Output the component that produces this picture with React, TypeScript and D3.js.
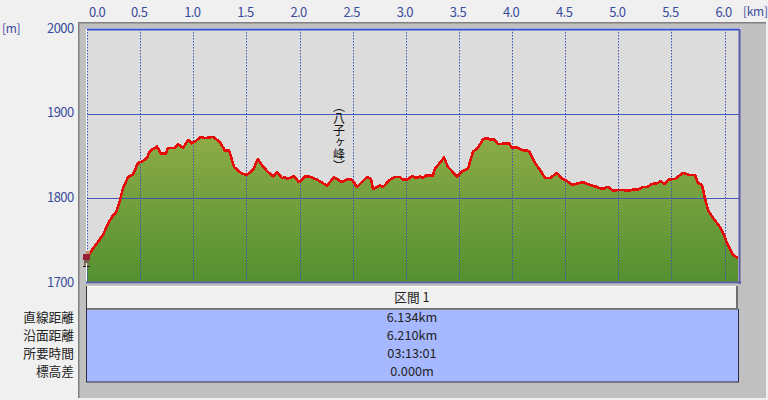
import React from "react";
import * as d3 from "d3";

const distanceKm = [0,.047,.094,.151,.198,.245,.273,.311,.339,.386,.433,.480,.527,.565,.593,.659,.696,.744,.762,.828,.856,.904,.951,.988,1.016,1.073,1.111,1.186,1.252,1.299,1.336,1.384,1.459,1.506,1.562,1.609,1.647,1.704,1.751,1.788,1.835,1.864,1.882,1.948,1.995,2.052,2.089,2.165,2.259,2.325,2.400,2.456,2.494,2.541,2.635,2.673,2.692,2.758,2.786,2.852,2.899,2.946,2.974,3.012,3.059,3.106,3.134,3.162,3.191,3.256,3.275,3.341,3.360,3.398,3.482,3.529,3.586,3.633,3.680,3.727,3.765,3.802,3.831,3.868,3.972,4.000,4.047,4.094,4.160,4.216,4.264,4.311,4.358,4.424,4.471,4.499,4.565,4.668,4.753,4.800,4.847,4.904,4.951,5.016,5.111,5.148,5.176,5.233,5.271,5.318,5.374,5.393,5.440,5.468,5.534,5.609,5.675,5.722,5.751,5.788,5.816,5.845,5.892,5.958,5.995,6.024,6.080,6.127];
const elevationM = [1729.5,1739,1747,1757,1770,1780,1783,1798,1812,1825,1828,1842,1844,1848,1856,1861,1853,1853,1859.5,1859.5,1864,1859.5,1869,1865,1867,1872.5,1871,1872.5,1866.5,1856,1857,1837,1829,1828,1833.5,1846.5,1839,1831,1826,1831,1824,1825,1823,1826,1819,1826,1826,1822,1815,1825,1819,1823,1822,1813.5,1825,1823,1811,1815,1813.5,1822,1825,1825,1822,1822,1826,1824,1826,1824,1827,1827,1835,1845,1848,1837,1826,1832,1835,1855,1859.5,1870,1871,1869,1870,1864,1865,1860,1860,1857,1856,1842,1833.5,1824,1824,1830,1823,1822,1816,1819,1815,1813.5,1811,1813.5,1809,1810,1809,1811,1810,1813.5,1813.5,1817,1818,1820.5,1817,1822,1823,1830,1827.5,1827.5,1818,1816,1800.4,1786,1777,1766,1757,1747,1733,1729.5];
const xTicks = [0,0.5,1,1.5,2,2.5,3,3.5,4,4.5,5,5.5,6];
const yTicks = [2000,1900,1800,1700];
const rowLabels = ["直線距離","沿面距離","所要時間","標高差"];
const rowValues = ["6.134km","6.210km","03:13:01","0.000m"];
const sectionTitle = "区間 1";
const peakLabel = "（八子ヶ峰）";

const FONT = "'Noto Sans CJK JP', sans-serif";
const points = distanceKm.map((d, i) => [d, elevationM[i]] as [number, number]);

export default function App() {
  const x = d3.scaleLinear().domain([0, 6]).range([87, 724.5]);
  const y = d3.scaleLinear().domain([1700, 2000]).range([283, 29]);
  const area = d3.area<[number, number]>().x(d => x(d[0])).y0(y(1700)).y1(d => y(d[1]));
  const line = d3.line<[number, number]>().x(d => x(d[0])).y(d => y(d[1]));
  const rowY = d3.scalePoint<string>().domain(rowLabels).range([318, 372]);
  const hx = x(0), hy = y(points[0][1]);
  return (
    <svg width={768} height={400} style={{ position: "absolute", left: 0, top: 0, display: "block" }}>
      <defs>
        <linearGradient id="fill" gradientUnits="userSpaceOnUse" x1="0" y1="137" x2="0" y2="283">
          <stop offset="0" stopColor="#8cab47" />
          <stop offset="1" stopColor="#549030" />
        </linearGradient>
      </defs>
      <rect width={768} height={400} fill="#f0f0f0" />
      <rect x={78} y={22} width={688} height={376} fill="#c0c0c0" />
      <rect x={78} y={22} width={688} height={1.5} fill="#808080" />
      <rect x={78} y={22} width={1.5} height={376} fill="#808080" />
      <rect x={86} y={28} width={654} height={256} fill="#dcdcdc" />
      <path d={area(points) ?? ""} fill="url(#fill)" />
      {yTicks.slice(1, 3).map(t => (
        <line key={t} x1={87} x2={740} y1={Math.round(y(t)) + 0.5} y2={Math.round(y(t)) + 0.5} stroke="#3c50b4" strokeOpacity={0.95} />
      ))}
      {xTicks.slice(1).map(t => (
        <line key={t} x1={Math.round(x(t)) + 0.5} x2={Math.round(x(t)) + 0.5} y1={29} y2={283} stroke="#3c50b4" strokeDasharray="1.5 1.5" />
      ))}
      <line x1={86} x2={741} y1={28.5} y2={28.5} stroke="#fff" />
      <line x1={86} x2={740} y1={29.5} y2={29.5} stroke="#3c50c8" strokeWidth={2} />
      <line x1={87.5} x2={87.5} y1={29} y2={283} stroke="#3c50c8" strokeDasharray="1.5 1.5" />
      <line x1={86.5} x2={86.5} y1={29} y2={283} stroke="#fff" />
      <line x1={739.5} x2={739.5} y1={29} y2={284} stroke="#5a5aa8" strokeWidth={2} />
      <line x1={86} x2={741} y1={282.5} y2={282.5} stroke="#5a60a8" strokeWidth={2} />
      <path d={line(points) ?? ""} fill="none" stroke="#e60a0a" strokeWidth={2.6} strokeLinejoin="round" shapeRendering="crispEdges" />

      {/* hiker marker */}
      <g transform={`translate(${hx},${hy})`}>
        <rect x={-1} y={-7} width={4} height={3} fill="#c89060" />
        <rect x={-4} y={-4} width={7} height={6} fill="#962038" />
        <rect x={-3} y={2} width={5} height={3} fill="#70604c" />
        <rect x={-3} y={5} width={2} height={3} fill="#847460" />
        <rect x={0} y={5} width={2} height={3} fill="#847460" />
        <rect x={-4} y={8} width={3} height={1} fill="#222" />
        <rect x={0} y={8} width={3} height={1} fill="#222" />
      </g>

      <g fontFamily={FONT} fontSize={13} fill="#3a4c9c">
        {xTicks.map(t => (
          <text key={t} x={t === 0 ? 97 : x(t) - 1} y={12} dy="0.35em" textAnchor="middle" letterSpacing={-0.6}>{t.toFixed(1)}</text>
        ))}
        <text x={743} y={12} dy="0.35em" fontSize={12} letterSpacing={-0.3}>[km]</text>
        <text x={2} y={29} dy="0.35em" fontSize={12} letterSpacing={-0.3}>[m]</text>
        {yTicks.map(t => (
          <text key={t} x={73.5} y={y(t) - 1} dy="0.35em" textAnchor="end" letterSpacing={-0.6}>{t}</text>
        ))}
      </g>

      <text x={339} y={100} fontFamily={FONT} fontSize={12} fill="#111"
        style={{ writingMode: "vertical-rl" }}
        dominantBaseline="central">{peakLabel}</text>

      <rect x={86.5} y={286.5} width={651} height={23} fill="#f0f0f0" stroke="#fff" />
      <line x1={86} x2={738} y1={309} y2={309} stroke="#707070" strokeWidth={2} />
      <line x1={737} x2={737} y1={286} y2={309} stroke="#707070" strokeWidth={2} />
      <line x1={86.5} x2={86.5} y1={286} y2={309} stroke="#333" />
      <rect x={86.5} y={309.5} width={652} height={72.5} fill="#a6b8ff" stroke="#2c2c44" />
      <line x1={87} x2={738} y1={309.5} y2={309.5} stroke="#808080" />
      <g fontFamily={FONT} fontSize={12.7} fill="#222">
        <text x={412} y={298} dy="0.35em" textAnchor="middle">{sectionTitle}</text>
        {rowLabels.map((l, i) => (
          <g key={l}>
            <text x={74} y={rowY(l)} dy="0.35em" textAnchor="end">{l}</text>
            <text x={412} y={rowY(l)} dy="0.35em" textAnchor="middle">{rowValues[i]}</text>
          </g>
        ))}
      </g>
    </svg>
  );
}
